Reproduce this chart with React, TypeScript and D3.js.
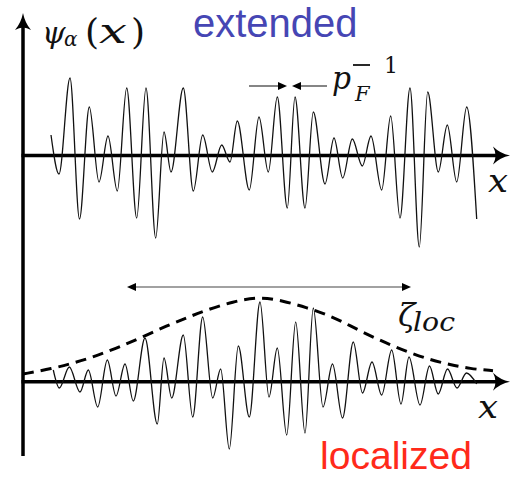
import React from "react";
import * as d3 from "d3";

// Extended wavefunction: positions of successive extrema and their amplitudes
const extendedX = [51, 59, 70, 79.5, 89.3, 99, 108, 117.3, 126.7, 136.7, 146, 155.7, 164, 171, 183.3, 193.3, 202.7, 212.3, 221.7, 230, 237.3, 249.3, 259, 268.3, 277.3, 287.3, 295, 305, 313.3, 325, 334, 342.7, 352.3, 362.3, 371, 381.7, 390.7, 400, 410, 419.3, 427.7, 438.3, 447.3, 456.7, 466.7, 476.7];
const extendedAmp = [20.5, -18.5, 77.5, -63.5, 48.5, -26.5, 19.5, -35.5, 67.5, -62.5, 67.5, -82.5, 23.5, -16.5, 67.5, -35.5, 20.5, -16.5, 10.5, -6.5, 34.5, -34.5, 38.5, -16.5, 58.5, -52.5, 58.5, -52.5, 43.5, -28.5, 17.5, -22.5, 16.5, -10.5, 19.5, -34.5, 39.5, -62.5, 67.5, -91.5, 63.5, -16.5, 30.5, -26.5, 48.5, -63.5];

// Localized wavefunction
const localizedX = [53.3, 59.3, 69.3, 80, 88.3, 97.7, 107.3, 116, 125, 133.3, 145, 157.3, 164, 171.7, 183.3, 192.7, 202.7, 212.7, 220.7, 229.3, 238.3, 249.3, 260, 269, 277.3, 286.7, 295.7, 305, 313.3, 323, 332.5, 342.5, 353.3, 362.5, 372, 381.7, 391.7, 401, 409, 420, 429.5, 438.2, 447.5, 457, 466.5, 476.7];
const localizedAmp = [11.7, -6.3, 14.7, -10.3, 11.7, -25.3, 21.7, -14.3, 17.7, -19.3, 43.7, -42.3, 23.7, -16.3, 46.7, -35.3, 64.7, -16.3, 12.7, -67.3, 35.7, -35.3, 79.7, -15.3, 33.7, -53.3, 59.7, -51.3, 73.7, -25.3, 17.7, -36.3, 39.7, -11.3, 19.7, -13.3, 31.7, -22.3, 24.7, -23.3, 15.7, -12.3, 12.7, -6.3, 8.7, -2.3];

// Envelope of the localized state (dashed)
const envelopeX = [23, 52, 75, 97, 120, 143, 167, 187, 207, 233, 258, 283, 307, 330, 350, 370, 390, 410, 430, 450, 470, 493];
const envelopeAmp = [7.7, 13, 19, 26, 35, 45, 56, 64, 72, 80, 85, 81, 74, 66, 56, 46, 37, 29, 22, 17, 13, 11];

const W = 511;
const H = 477;

export default function App() {
  const x = d3.scaleLinear().domain([0, W]).range([0, W]);
  const topAxisY = 155.5;
  const botAxisY = 381.7;
  const yTop = d3.scaleLinear().domain([-100, 100]).range([topAxisY + 100, topAxisY - 100]);
  const yBot = d3.scaleLinear().domain([-100, 100]).range([botAxisY + 100, botAxisY - 100]);

  const pts = (xs: number[], ys: number[]) => xs.map((v, i) => [v, ys[i]] as [number, number]);

  const lineTop = d3.line<[number, number]>().x(d => x(d[0])).y(d => yTop(d[1])).curve(d3.curveMonotoneX);
  const lineBot = d3.line<[number, number]>().x(d => x(d[0])).y(d => yBot(d[1])).curve(d3.curveMonotoneX);
  const lineEnv = d3.line<[number, number]>().x(d => x(d[0])).y(d => yBot(d[1])).curve(d3.curveBasis);

  const upHead = (tx: number, ty: number) =>
    `M${tx},${ty} Q${tx + 2},${ty + 10} ${tx + 8},${ty + 17} Q${tx},${ty + 12} ${tx - 8},${ty + 17} Q${tx - 2},${ty + 10} ${tx},${ty} Z`;
  const rightHead = (tx: number, ty: number) =>
    `M${tx},${ty} Q${tx - 10},${ty + 2} ${tx - 17},${ty + 9} Q${tx - 12},${ty} ${tx - 17},${ty - 9} Q${tx - 10},${ty - 2} ${tx},${ty} Z`;
  const smallHead = (tx: number, ty: number, dir: number) =>
    `M${tx},${ty} L${tx - dir * 9},${ty - 4} L${tx - dir * 9},${ty + 4} Z`;

  const sans = "Liberation Sans, Arial, sans-serif";
  const serif = "DejaVu Serif, Liberation Serif, serif";

  return (
    <svg width={W} height={H} style={{ position: "absolute", left: 0, top: 0, background: "#fff" }}>
      <rect x={0} y={0} width={W} height={H} fill="#fff" />
      {/* axes */}
      <line x1={23} y1={456} x2={23} y2={24} stroke="#000" strokeWidth={3.5} />
      <path d={upHead(23, 13)} fill="#000" />
      <line x1={21.5} y1={topAxisY} x2={500} y2={topAxisY} stroke="#000" strokeWidth={3.5} />
      <path d={rightHead(510, topAxisY)} fill="#000" />
      <line x1={21.5} y1={botAxisY} x2={500} y2={botAxisY} stroke="#000" strokeWidth={3.5} />
      <path d={rightHead(510, botAxisY)} fill="#000" />

      {/* waves */}
      <path d={lineTop(pts(extendedX, extendedAmp)) || ""} fill="none" stroke="#111" strokeWidth={1.3} />
      <path d={lineBot(pts(localizedX, localizedAmp)) || ""} fill="none" stroke="#111" strokeWidth={1.3} />
      <path d={lineEnv(pts(envelopeX, envelopeAmp)) || ""} fill="none" stroke="#000" strokeWidth={3} strokeDasharray="11 7" />

      {/* p_F^-1 arrows */}
      <line x1={249} y1={86} x2={280} y2={86} stroke="#333" strokeWidth={1.2} />
      <path d={smallHead(287, 86, 1)} fill="#000" />
      <line x1={327} y1={86} x2={299} y2={86} stroke="#333" strokeWidth={1.2} />
      <path d={smallHead(292, 86, -1)} fill="#000" />

      {/* zeta_loc arrow */}
      <line x1={134} y1={287} x2={404} y2={287} stroke="#444" strokeWidth={1.2} />
      <path d={smallHead(127, 287, -1)} fill="#000" />
      <path d={smallHead(411, 287, 1)} fill="#000" />

      {/* labels */}
      <text x={42} y={43} fontFamily={serif} fontStyle="italic" fontSize={30} fill="#111">ψ</text>
      <text x={64} y={46} fontFamily={serif} fontStyle="italic" fontSize={20} fill="#111">α</text>
      <text x={85} y={44} fontFamily={serif} fontSize={36} fill="#111">(</text>
      <text x={99} y={43} fontFamily={serif} fontStyle="italic" fontSize={34} fill="#111" textLength={28} lengthAdjust="spacingAndGlyphs">x</text>
      <text x={131} y={44} fontFamily={serif} fontSize={36} fill="#111">)</text>

      <text x={193} y={37} fontFamily={sans} fontSize={40} fill="#4646b4">extended</text>
      <text x={320} y={469} fontFamily={sans} fontSize={38} fill="#ff2a1a" textLength={152} lengthAdjust="spacingAndGlyphs">localized</text>

      <text x={332} y={89} fontFamily={serif} fontStyle="italic" fontSize={32} fill="#111" textLength={19} lengthAdjust="spacingAndGlyphs">p</text>
      <text x={355} y={101} fontFamily={serif} fontStyle="italic" fontSize={21} fill="#111">F</text>
      <line x1={353} y1={65} x2={370} y2={65} stroke="#111" strokeWidth={1.8} />
      <text x={384} y={73} fontFamily={serif} fontSize={22} fill="#111">1</text>

      <text x={398} y={326} fontFamily={serif} fontStyle="italic" fontSize={32} fill="#111">ζ</text>
      <text x={413} y={331} fontFamily={serif} fontStyle="italic" fontSize={26} fill="#111" textLength={42} lengthAdjust="spacingAndGlyphs">loc</text>

      <text x={488} y={192} fontFamily={serif} fontStyle="italic" fontSize={32} fill="#111" textLength={20} lengthAdjust="spacingAndGlyphs">x</text>
      <text x={478} y={418} fontFamily={serif} fontStyle="italic" fontSize={32} fill="#111" textLength={20} lengthAdjust="spacingAndGlyphs">x</text>
    </svg>
  );
}
